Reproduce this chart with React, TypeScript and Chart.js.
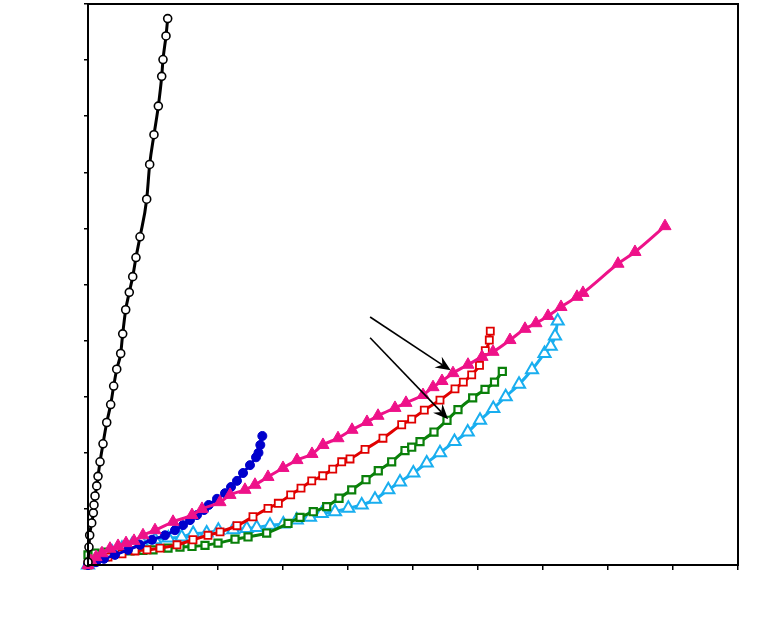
import React, { useEffect, useRef } from "react";
import { Chart, registerables } from "chart.js";

Chart.register(...registerables);

// ---- data ----
const blackX = [0, 0.015, 0.026, 0.057, 0.082, 0.092, 0.108, 0.134, 0.154, 0.185, 0.231, 0.288, 0.349, 0.395, 0.442, 0.503, 0.534, 0.58, 0.635, 0.688, 0.738, 0.8, 0.903, 0.949, 1.015, 1.082, 1.134, 1.154, 1.2, 1.226];
const blackY = [0.05, 0.32, 0.53, 0.75, 0.93, 1.07, 1.23, 1.41, 1.58, 1.84, 2.16, 2.54, 2.86, 3.19, 3.49, 3.77, 4.12, 4.55, 4.86, 5.14, 5.48, 5.85, 6.52, 7.14, 7.67, 8.18, 8.71, 9.01, 9.43, 9.74];

const blueX = [0, 0.123, 0.246, 0.415, 0.615, 0.8, 0.985, 1.185, 1.338, 1.462, 1.569, 1.677, 1.785, 1.857, 1.985, 2.108, 2.2, 2.292, 2.385, 2.492, 2.585, 2.623, 2.651, 2.682];
const blueY = [0, 0.05, 0.11, 0.18, 0.27, 0.36, 0.45, 0.53, 0.62, 0.71, 0.8, 0.89, 0.98, 1.07, 1.18, 1.28, 1.39, 1.5, 1.64, 1.78, 1.92, 2.0, 2.14, 2.3];

const pinkX = [0, 0.046, 0.123, 0.215, 0.338, 0.462, 0.585, 0.708, 0.846, 1.031, 1.308, 1.6, 1.754, 2.031, 2.185, 2.415, 2.569, 2.769, 3.0, 3.215, 3.446, 3.615, 3.846, 4.062, 4.292, 4.462, 4.723, 4.892, 5.154, 5.308, 5.446, 5.615, 5.846, 6.062, 6.231, 6.492, 6.723, 6.892, 7.077, 7.277, 7.523, 7.615, 8.154, 8.415, 8.877];
const pinkY = [0, 0.07, 0.14, 0.21, 0.29, 0.34, 0.39, 0.43, 0.53, 0.62, 0.77, 0.89, 1.0, 1.12, 1.25, 1.34, 1.43, 1.57, 1.73, 1.87, 1.98, 2.14, 2.26, 2.41, 2.55, 2.66, 2.8, 2.89, 3.03, 3.17, 3.28, 3.42, 3.57, 3.71, 3.8, 4.01, 4.21, 4.31, 4.44, 4.6, 4.78, 4.85, 5.37, 5.58, 6.04];

const redX = [0, 0.123, 0.308, 0.523, 0.723, 0.908, 1.108, 1.369, 1.615, 1.846, 2.031, 2.292, 2.538, 2.769, 2.928, 3.118, 3.277, 3.442, 3.611, 3.765, 3.903, 4.031, 4.262, 4.538, 4.826, 4.98, 5.174, 5.415, 5.646, 5.774, 5.903, 6.023, 6.112, 6.174, 6.189];
const redY = [0, 0.07, 0.14, 0.2, 0.25, 0.27, 0.3, 0.36, 0.45, 0.53, 0.59, 0.7, 0.86, 1.01, 1.1, 1.25, 1.37, 1.5, 1.59, 1.71, 1.84, 1.89, 2.06, 2.26, 2.5, 2.6, 2.76, 2.94, 3.14, 3.26, 3.39, 3.56, 3.82, 4.01, 4.17];

const greenX = [0, 0.108, 0.262, 0.462, 0.646, 0.846, 1.0, 1.231, 1.415, 1.6, 1.8, 2.0, 2.262, 2.462, 2.749, 3.077, 3.262, 3.466, 3.672, 3.862, 4.057, 4.277, 4.466, 4.672, 4.877, 4.98, 5.108, 5.323, 5.523, 5.692, 5.918, 6.108, 6.254, 6.374];
const greenY = [0.18, 0.21, 0.23, 0.24, 0.25, 0.26, 0.27, 0.3, 0.32, 0.33, 0.35, 0.39, 0.46, 0.5, 0.57, 0.74, 0.85, 0.95, 1.04, 1.19, 1.34, 1.52, 1.68, 1.84, 2.04, 2.1, 2.2, 2.37, 2.58, 2.77, 2.98, 3.13, 3.26, 3.45];

const cyanX = [0, 0.092, 0.215, 0.369, 0.523, 0.677, 0.826, 1.031, 1.235, 1.44, 1.618, 1.826, 2.005, 2.235, 2.442, 2.595, 2.8, 3.005, 3.211, 3.415, 3.595, 3.8, 4.005, 4.211, 4.415, 4.62, 4.8, 5.005, 5.211, 5.415, 5.638, 5.842, 6.031, 6.235, 6.426, 6.631, 6.831, 7.023, 7.118, 7.185, 7.226];
const cyanY = [0, 0.07, 0.14, 0.23, 0.3, 0.36, 0.41, 0.45, 0.48, 0.5, 0.56, 0.57, 0.62, 0.63, 0.65, 0.67, 0.71, 0.73, 0.8, 0.85, 0.92, 0.95, 1.01, 1.07, 1.17, 1.34, 1.48, 1.64, 1.82, 2.0, 2.2, 2.37, 2.58, 2.79, 3.0, 3.22, 3.48, 3.77, 3.9, 4.08, 4.35];

const arrowStartX = [4.34, 4.34];
const arrowStartY = [4.42, 4.05];
const arrowEndX = [5.58, 5.54];
const arrowEndY = [3.47, 2.6];

const xMin = 0, xMax = 10, yMin = 0, yMax = 10, tickStep = 1;

const toPts = (xs: number[], ys: number[]) => xs.map((x, i) => ({ x, y: ys[i] }));

const framePlugin = {
  id: "frameAndArrows",
  afterDatasetsDraw(chart: any) {
    const { ctx, scales } = chart;
    ctx.save();
    ctx.strokeStyle = "#000";
    ctx.fillStyle = "#000";
    ctx.lineWidth = 1.6;
    for (let i = 0; i < arrowStartX.length; i++) {
      const x1 = scales.x.getPixelForValue(arrowStartX[i]);
      const y1 = scales.y.getPixelForValue(arrowStartY[i]);
      const x2 = scales.x.getPixelForValue(arrowEndX[i]);
      const y2 = scales.y.getPixelForValue(arrowEndY[i]);
      const a = Math.atan2(y2 - y1, x2 - x1);
      const L = 15, W = 6.5, N = 10;
      const bx = x2 - L * Math.cos(a), by = y2 - L * Math.sin(a);
      const nx = x2 - N * Math.cos(a), ny = y2 - N * Math.sin(a);
      ctx.beginPath();
      ctx.moveTo(x1, y1);
      ctx.lineTo(nx, ny);
      ctx.stroke();
      ctx.beginPath();
      ctx.moveTo(x2, y2);
      ctx.lineTo(bx - W * Math.sin(a), by + W * Math.cos(a));
      ctx.lineTo(nx, ny);
      ctx.lineTo(bx + W * Math.sin(a), by - W * Math.cos(a));
      ctx.closePath();
      ctx.fill();
    }
    ctx.restore();
  },
  afterDraw(chart: any) {
    const { ctx, chartArea } = chart;
    ctx.save();
    ctx.strokeStyle = "#000";
    ctx.lineWidth = 2;
    ctx.strokeRect(chartArea.left, chartArea.top, chartArea.right - chartArea.left, chartArea.bottom - chartArea.top);
    ctx.restore();
  },
};

export default function App() {
  const ref = useRef<HTMLCanvasElement | null>(null);
  useEffect(() => {
    if (!ref.current) return;
    const common = { showLine: true, cubicInterpolationMode: "monotone" as const, clip: false as any };
    const chart = new Chart(ref.current, {
      type: "scatter",
      data: {
        datasets: [
          { ...common, label: "black", data: toPts(blackX, blackY), borderColor: "#000", borderWidth: 3, pointStyle: "circle", pointRadius: 4, pointBorderWidth: 1.6, pointBorderColor: "#000", pointBackgroundColor: "#fff", order: 1 },
          { ...common, label: "pink", data: toPts(pinkX, pinkY), borderColor: "#EE1289", borderWidth: 3, pointStyle: "triangle", pointRadius: 7, pointBorderWidth: 1, pointBorderColor: "#EE1289", pointBackgroundColor: "#EE1289", order: 2 },
          { ...common, label: "blue", data: toPts(blueX, blueY), borderColor: "#0000CC", borderWidth: 3, pointStyle: "circle", pointRadius: 4.5, pointBorderWidth: 1, pointBorderColor: "#0000CC", pointBackgroundColor: "#0000CC", order: 3 },
          { ...common, label: "red", data: toPts(redX, redY), borderColor: "#E00000", borderWidth: 3, pointStyle: "rect", pointRadius: 5, pointBorderWidth: 1.8, pointBorderColor: "#E00000", pointBackgroundColor: "#fff", order: 4 },
          { ...common, label: "green", data: toPts(greenX, greenY), borderColor: "#0A800A", borderWidth: 3, pointStyle: "rect", pointRadius: 5, pointBorderWidth: 2.2, pointBorderColor: "#0A800A", pointBackgroundColor: "#fff", order: 5 },
          { ...common, label: "cyan", data: toPts(cyanX, cyanY), borderColor: "#19AEEF", borderWidth: 3, pointStyle: "triangle", pointRadius: 7, pointBorderWidth: 2, pointBorderColor: "#19AEEF", pointBackgroundColor: "#fff", order: 6 },
        ],
      },
      options: {
        responsive: false,
        animation: false,
        devicePixelRatio: 1,
        layout: { autoPadding: false, padding: { left: 84, right: 27, top: 4, bottom: 65 } },
        plugins: { legend: { display: false }, tooltip: { enabled: false } },
        elements: { line: { borderCapStyle: "round", borderJoinStyle: "round" } },
        scales: {
          x: {
            type: "linear",
            min: xMin,
            max: xMax,
            ticks: { display: false, stepSize: tickStep },
            grid: { drawOnChartArea: false, drawTicks: true, tickLength: 5, color: "#000", lineWidth: 1.5 },
            border: { display: false },
            afterFit: (s: any) => { s.height = 5; },
          },
          y: {
            type: "linear",
            min: yMin,
            max: yMax,
            ticks: { display: false, stepSize: tickStep },
            grid: { drawOnChartArea: false, drawTicks: true, tickLength: 4, color: "#000", lineWidth: 1.5 },
            border: { display: false },
            afterFit: (s: any) => { s.width = 4; },
          },
        },
      },
      plugins: [framePlugin],
    });
    return () => chart.destroy();
  }, []);
  return (
    <div style={{ position: "absolute", left: 0, top: 0, width: 765, height: 635, background: "#fff" }}>
      <canvas ref={ref} width={765} height={635} style={{ width: 765, height: 635, display: "block" }} />
    </div>
  );
}
